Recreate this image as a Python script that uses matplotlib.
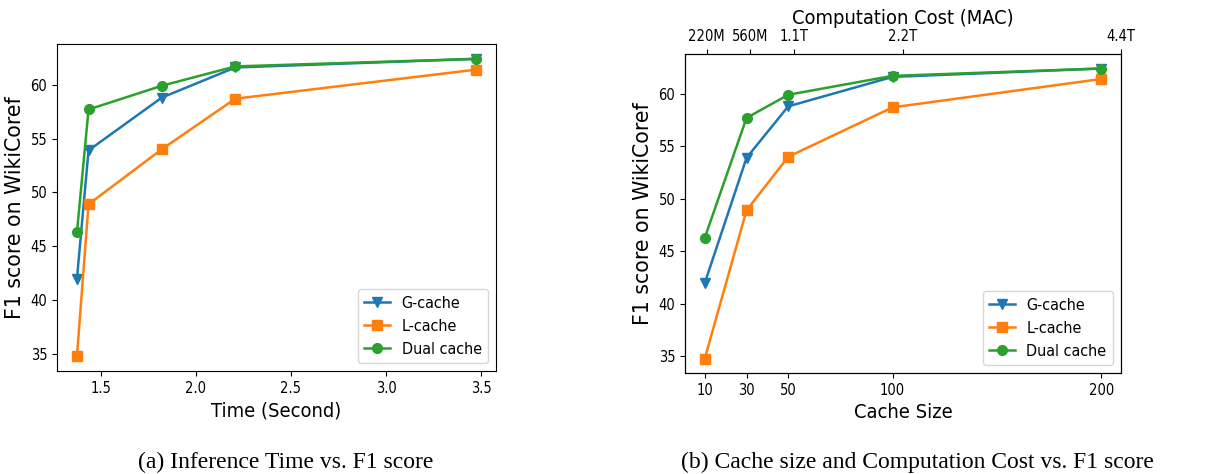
import matplotlib
matplotlib.use('Agg')
import matplotlib.pyplot as plt

# the reference looks squeezed sideways, condensed glyphs get close to that
plt.rcParams['font.stretch'] = 'condensed'

# data
times = [1.374, 1.435, 1.82, 2.207, 3.474]
cache_sizes = [10, 30, 50, 100, 200]
mac_labels = ['220M', '560M', '1.1T', '2.2T', '4.4T']

g_cache = [42.0, 53.9, 58.8, 61.6, 62.4]
l_cache = [34.8, 48.9, 54.0, 58.7, 61.4]
dual_cache = [46.3, 57.7, 59.9, 61.7, 62.4]

series = [
    ('G-cache', g_cache, 'v', '#1f77b4'),
    ('L-cache', l_cache, 's', '#ff7f0e'),
    ('Dual cache', dual_cache, 'o', '#2ca02c'),
]

W, H = 1207, 474
fig = plt.figure(figsize=(W / 100, H / 100), dpi=100)


def px_axes(left, top, right, bottom):
    return fig.add_axes([left / W, 1 - bottom / H, (right - left) / W, (bottom - top) / H])


def draw(ax, xs):
    for name, vals, marker, color in series:
        ax.plot(xs, vals, marker=marker, color=color, label=name,
                linewidth=1.8, markersize=7)
    ax.set_yticks([35, 40, 45, 50, 55, 60])
    ax.tick_params(labelsize=10.5)
    ax.set_ylabel('F1 score on WikiCoref', fontsize=14.8, fontstretch='normal')
    ax.legend(loc='lower right', fontsize=11.5, handlelength=1.65,
              handletextpad=0.7)


# (a) time vs F1
ax1 = px_axes(57, 44, 496, 371)
draw(ax1, times)
ax1.set_xticks([1.5, 2.0, 2.5, 3.0, 3.5])
ax1.set_xlabel('Time (Second)', fontsize=14.4)

# (b) cache size vs F1, with MAC cost on top
ax2 = px_axes(685, 54, 1121, 373)
draw(ax2, cache_sizes)
ax2.set_xticks(cache_sizes)
ax2.set_xlabel('Cache Size', fontsize=14.4)

top = ax2.twiny()
top.set_xlim(0, 200)
top.set_xticks(cache_sizes)
top.set_xticklabels(mac_labels)
top.tick_params(labelsize=10.5)
top.set_xlabel('Computation Cost (MAC)', fontsize=14.4)

# captions
fig.text(286 / W, 1 - 462 / H, '(a) Inference Time vs. F1 score',
         family='Liberation Serif', fontstretch='normal', fontsize=17,
         ha='center', va='center')
fig.text(917 / W, 1 - 462 / H, '(b) Cache size and Computation Cost vs. F1 score',
         family='Liberation Serif', fontstretch='normal', fontsize=17,
         ha='center', va='center')

fig.savefig('out.png', dpi=100)
